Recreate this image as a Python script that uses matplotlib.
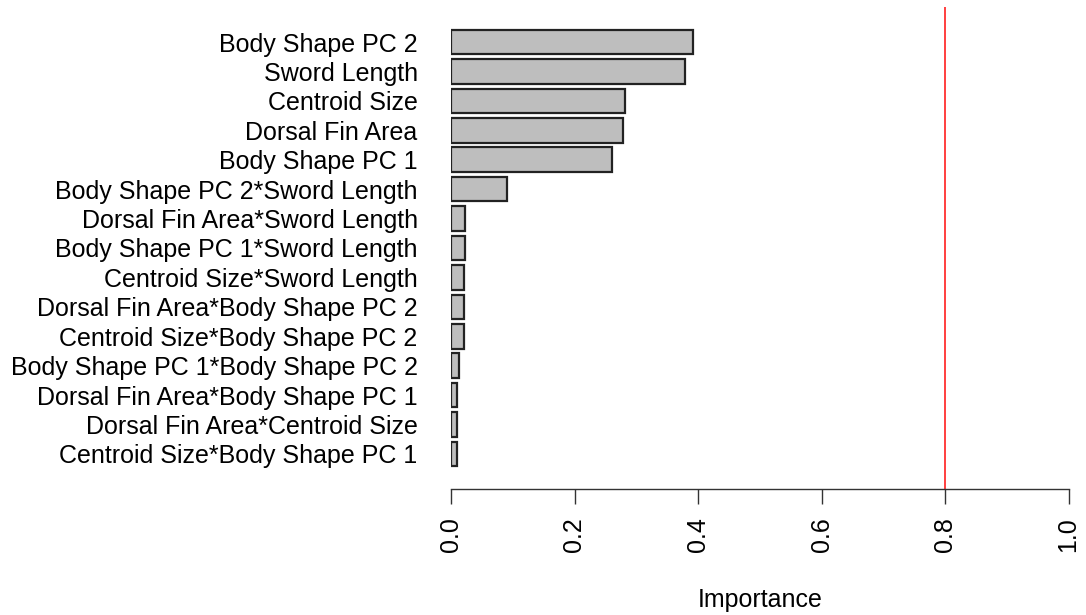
import matplotlib.pyplot as plt
import numpy as np

# variable importance, listed top to bottom as in the chart
labels = [
    "Body Shape PC 2",
    "Sword Length",
    "Centroid Size",
    "Dorsal Fin Area",
    "Body Shape PC 1",
    "Body Shape PC 2*Sword Length",
    "Dorsal Fin Area*Sword Length",
    "Body Shape PC 1*Sword Length",
    "Centroid Size*Sword Length",
    "Dorsal Fin Area*Body Shape PC 2",
    "Centroid Size*Body Shape PC 2",
    "Body Shape PC 1*Body Shape PC 2",
    "Dorsal Fin Area*Body Shape PC 1",
    "Dorsal Fin Area*Centroid Size",
    "Centroid Size*Body Shape PC 1",
]
importance = [0.392, 0.379, 0.281, 0.278, 0.260, 0.090, 0.023, 0.023,
              0.021, 0.021, 0.021, 0.013, 0.0105, 0.0105, 0.0105]
threshold = 0.8
xticks = [0.0, 0.2, 0.4, 0.6, 0.8, 1.0]

plt.rcParams['font.family'] = ['Liberation Sans', 'DejaVu Sans']

W, H = 1086, 615
fig = plt.figure(figsize=(W / 100, H / 100), dpi=100)
# plot region in pixels: x 451..1068.5, y 7..489 (from top)
ax = fig.add_axes([451 / W, (H - 489) / H, (1068.5 - 451) / W, (489 - 7) / H])

# R barplot layout: width 1, space 0.2, first bar at the bottom
n = len(labels)
centers = 0.7 + 1.2 * np.arange(n)
vals = importance[::-1]
ax.barh(centers, vals, height=1.0, left=0, color="#bebebe",
        edgecolor="#222222", linewidth=1.6)
ax.set_ylim(-0.728, 18.928)
ax.set_xlim(0, 1)

ax.axvline(threshold, color="#ff3030", linewidth=1.3)

ax.set_yticks(centers)
ax.set_yticklabels(labels[::-1], fontsize=18)
ax.tick_params(axis="y", length=0, pad=24)

ax.set_xticks(xticks)
ax.set_xticklabels([f"{t:.1f}" for t in xticks], rotation=90, fontsize=18)
ax.tick_params(axis="x", length=10.5, width=1.0, pad=10, color="#333333")

for s in ["top", "right", "left"]:
    ax.spines[s].set_visible(False)
ax.spines["bottom"].set_bounds(0, 1)
ax.spines["bottom"].set_linewidth(1.0)
ax.spines["bottom"].set_color("#333333")

ax.set_xlabel("Importance", fontsize=18, labelpad=26)

fig.savefig("out.png", dpi=100)
